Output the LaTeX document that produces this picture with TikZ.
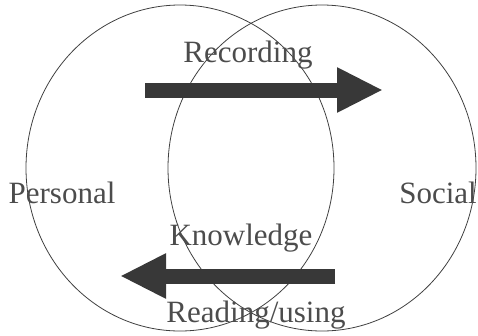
\documentclass[tikz,border=0pt]{standalone}
\usepackage{fontspec}
\setmainfont{Liberation Serif}
\usetikzlibrary{arrows.meta,shapes.geometric}

\begin{document}
\begin{tikzpicture}[
    x=1pt, y=-1pt,
    sphere/.style={draw=black!75, line width=0.8pt, ellipse, minimum width=308pt, minimum height=326pt, inner sep=0pt},
    label/.style={anchor=base, text=black!70, inner sep=0pt, font=\fontsize{31}{36}\selectfont},
    flow/.style={-{Triangle[length=46pt, width=42pt]}, line width=15pt, draw=black!78}
]
\useasboundingbox (0,0) rectangle (478,335);

\node[sphere] (personal) at (180,168) {};
\node[sphere] (social) at (322,168) {};

\node[label] (pers) at (62,203) {Personal};
\node[label, anchor=base east] (soc) at (477,203) {Social};
\node[label] (rec) at (248,62) {Recording};
\node[label] (know) at (241,245) {Knowledge};
\node[label] (read) at (256,322) {Reading/using};

\coordinate (rec start) at (145,90);
\coordinate (rec end) at (383,90);
\coordinate (read start) at (335,276);
\coordinate (read end) at (120,276);

\draw[flow] (rec start) -- (rec end);
\draw[flow] (read start) -- (read end);
\end{tikzpicture}
\end{document}
